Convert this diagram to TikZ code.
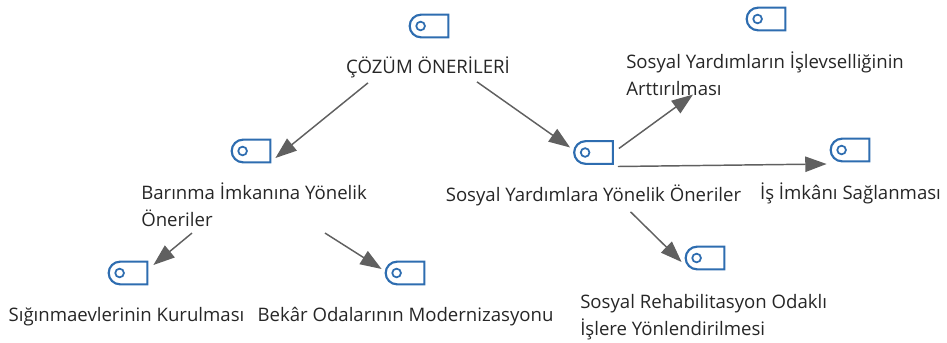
\documentclass[tikz,border=0pt]{standalone}
\usepackage{fontspec}
\setmainfont{Open Sans}
\usetikzlibrary{positioning,calc,arrows.meta,shapes.misc}
\definecolor{TagBlue}{RGB}{46,109,176}
\definecolor{ArrowGray}{RGB}{96,96,96}
\tikzset{
    tagicon/.style={rounded rectangle, rounded rectangle right arc=none, draw=TagBlue, line width=1.6pt, fill=white, minimum width=29pt, minimum height=17pt, inner sep=0pt},
    taghole/.style={circle, draw=TagBlue, line width=1.3pt, minimum size=6.5pt, inner sep=0pt},
    label/.style={font=\fontsize{13.95}{20}\selectfont, text=black!85, inner sep=0pt, align=left},
    linkarrow/.style={draw=ArrowGray, line width=1.1pt, -{Triangle[length=16pt,width=11.5pt]}}
}
\begin{document}
\begin{tikzpicture}[x=0.75pt, y=-0.75pt]
\useasboundingbox (0,0) rectangle (947,343);

\foreach \name/\xx/\yy in {tagA/429/26, tagB/766/19, tagC/251/151, tagD/593.5/152.5, tagE/850/150, tagF/128/273, tagG/405/273, tagH/705/258}{
    \node[tagicon] (\name) at (\xx,\yy) {};
    \node[taghole] (\name h) at ($(\name.west)+(12,0)$) {};
}

\node[label] (cozum) at (428,67) {ÇÖZÜM ÖNERİLERİ};
\node[label, anchor=west] (barinma) at (141,205) {Barınma İmkanına Yönelik\\Öneriler};
\node[label] (yardim) at (593.5,195) {Sosyal Yardımlara Yönelik Öneriler};
\node[label, anchor=west] (islev) at (626,73.5) {Sosyal Yardımların İşlevselliğinin\\Arttırılması};
\node[label] (imkan) at (850.5,193) {İş İmkânı Sağlanması};
\node[label] (siginma) at (126.5,316.5) {Sığınmaevlerinin Kurulması};
\node[label] (bekar) at (405.5,316.5) {Bekâr Odalarının Modernizasyonu};
\node[label, anchor=west] (rehab) at (580,317) {Sosyal Rehabilitasyon Odaklı\\İşlere Yönlendirilmesi};

\draw[linkarrow] ($(cozum.south)+(-60,5)$) -- ($(tagC.east)+(4,7)$);
\draw[linkarrow] ($(cozum.south)+(49,4)$) -- ($(tagD.west)+(-3,-5)$);
\draw[linkarrow] ($(tagD.east)+(5,-4)$) -- ($(islev.south west)+(67,-1)$);
\draw[linkarrow] ($(tagD.east)+(4,14)$) -- ($(tagE.west)+(-3,14)$);
\draw[linkarrow] ($(yardim.south)+(37,6)$) -- ($(tagH.west)+(-3,4)$);
\draw[linkarrow] ($(barinma.south west)+(51,6)$) -- ($(tagF.east)+(5,-8)$);
\draw[linkarrow] ($(barinma.south west)+(184,6)$) -- ($(tagG.west)+(-3,-4)$);
\end{tikzpicture}
\end{document}
